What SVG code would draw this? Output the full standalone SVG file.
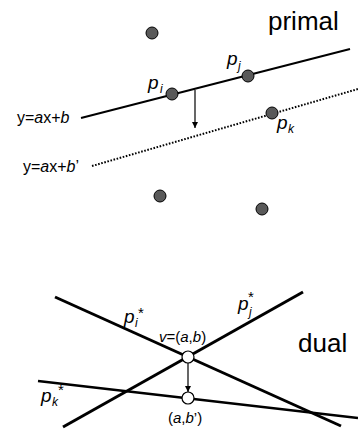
<svg xmlns="http://www.w3.org/2000/svg" width="358" height="430" viewBox="0 0 358 430">
<style>
text{font-family:"Liberation Sans",Arial,sans-serif;fill:#000}
.big{font-size:26px}
.lab{font-size:19px;font-style:italic}
.sub{font-size:12px;font-style:italic}
.st{font-size:15px}
.eq{font-size:16px}
.it{font-style:italic}
.pt{fill:#595959;stroke:#000;stroke-width:1}
.wp{fill:#fff;stroke:#000;stroke-width:1.2}
.thin{stroke:#000;stroke-width:2;fill:none}
.thick{stroke:#000;stroke-width:3;fill:none}
.dot{stroke:#000;stroke-width:2;fill:none;stroke-dasharray:1.6,1.6}
.arr{stroke:#000;stroke-width:1.2;fill:none}
</style>
<defs>
<marker id="ah" viewBox="0 0 10 10" refX="10" refY="5" markerWidth="6" markerHeight="6" markerUnits="userSpaceOnUse" orient="auto"><path d="M0,0L10,5L0,10Z" fill="#000"/></marker>
</defs>
<g id="connectors">
<line class="thin" x1="81" y1="118" x2="350" y2="49"/>
<line class="dot" x1="92" y1="166" x2="358" y2="89"/>
<line class="arr" x1="195" y1="90" x2="195" y2="128" marker-end="url(#ah)"/>
<line class="thick" x1="55" y1="297" x2="341" y2="426"/>
<line class="thick" x1="303" y1="292" x2="63" y2="427"/>
<line class="thick" x1="38" y1="381" x2="358" y2="418" style="stroke-width:2.5"/>
<line class="arr" x1="188" y1="363" x2="188" y2="392" marker-end="url(#ah)"/>
</g>
<g id="title-primal"><text class="big" x="268" y="30">primal</text></g>
<g id="title-dual"><text class="big" x="298" y="352">dual</text></g>
<g id="p-top"><circle class="pt" cx="152" cy="33" r="6"/></g>
<g id="p-i"><circle class="pt" cx="172" cy="94" r="6"/><text class="lab" x="148" y="89">p</text><text class="sub" x="160" y="93">i</text></g>
<g id="p-j"><circle class="pt" cx="248" cy="76" r="6"/><text class="lab" x="227" y="65">p</text><text class="sub" x="238" y="70">j</text></g>
<g id="p-k"><circle class="pt" cx="272" cy="113" r="6"/><text class="lab" x="277" y="129">p</text><text class="sub" x="288" y="133">k</text></g>
<g id="p-bl"><circle class="pt" cx="160" cy="196" r="6"/></g>
<g id="p-br"><circle class="pt" cx="262" cy="209" r="6"/></g>
<g id="eq1"><text class="eq" x="17" y="123">y=<tspan class="it">a</tspan>x+<tspan class="it">b</tspan></text></g>
<g id="eq2"><text class="eq" x="23" y="172">y=<tspan class="it">a</tspan>x+<tspan class="it">b</tspan>’</text></g>
<g id="pi-star"><text class="lab" x="124" y="323">p</text><text class="sub" x="135" y="327">i</text><text class="st" x="138" y="318">*</text></g>
<g id="pj-star"><text class="lab" x="238" y="310">p</text><text class="sub" x="249" y="316">j</text><text class="st" x="248" y="302">*</text></g>
<g id="pk-star"><text class="lab" x="41" y="402">p</text><text class="sub" x="52" y="406">k</text><text class="st" x="58" y="395">*</text></g>
<g id="v"><circle class="wp" cx="188" cy="357" r="6"/><text class="eq" style="font-size:15px" x="159" y="342"><tspan class="it">v</tspan>=(<tspan class="it">a</tspan>,<tspan class="it">b</tspan>)</text></g>
<g id="ab2"><circle class="wp" cx="188" cy="398" r="6"/><text class="eq" style="font-size:15px" x="168" y="423">(<tspan class="it">a</tspan>,<tspan class="it">b</tspan>’)</text></g>
</svg>
